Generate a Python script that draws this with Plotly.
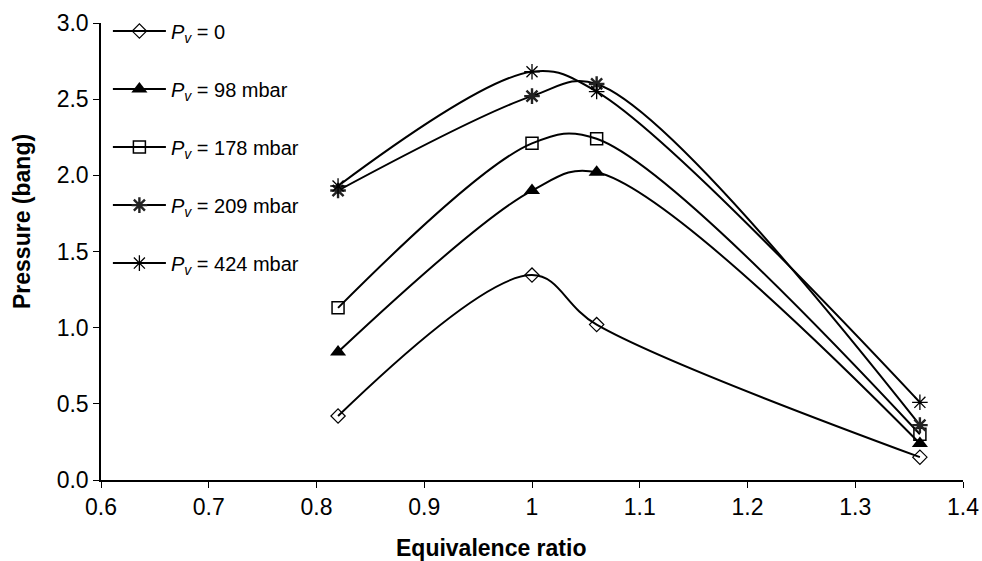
import plotly.graph_objects as go

phi = [0.82, 1.0, 1.06, 1.36]
p_0 = [0.42, 1.345, 1.02, 0.15]
p_98 = [0.84, 1.90, 2.02, 0.24]
p_178 = [1.13, 2.21, 2.24, 0.30]
p_209 = [1.90, 2.52, 2.60, 0.36]
p_424 = [1.93, 2.68, 2.55, 0.51]

x_ticks = [0.6, 0.7, 0.8, 0.9, 1.0, 1.1, 1.2, 1.3, 1.4]
x_ticktext = ["0.6", "0.7", "0.8", "0.9", "1", "1.1", "1.2", "1.3", "1.4"]
y_ticks = [0, 0.5, 1.0, 1.5, 2.0, 2.5, 3.0]
y_ticktext = ["0.0", "0.5", "1.0", "1.5", "2.0", "2.5", "3.0"]

names = ["<i>P</i><sub><i>v</i></sub> = 0",
         "<i>P</i><sub><i>v</i></sub> = 98 mbar",
         "<i>P</i><sub><i>v</i></sub> = 178 mbar",
         "<i>P</i><sub><i>v</i></sub> = 209 mbar",
         "<i>P</i><sub><i>v</i></sub> = 424 mbar"]

series = [p_0, p_98, p_178, p_209, p_424]
markers = [
    dict(symbol="diamond-open", size=11, color="black", line=dict(width=1.2, color="black")),
    dict(symbol="triangle-up", size=14, color="black", line=dict(width=0, color="black")),
    dict(symbol="square-open", size=12, color="black", line=dict(width=1.5, color="#333")),
    dict(symbol="asterisk-open", size=13, color="#222", line=dict(width=2.4, color="#444")),
    dict(symbol="asterisk-open", size=13, color="black", line=dict(width=1.3, color="black")),
]

fig = go.Figure()
for i, (ys, nm, mk) in enumerate(zip(series, names, markers)):
    fig.add_trace(go.Scatter(
        x=phi, y=ys, name=nm, mode="lines+markers",
        line=dict(color="black", width=2, shape="spline", smoothing=1),
        marker=mk, legendgroup=str(i),
    ))

font_main = "Liberation Sans, Arial, sans-serif"
fig.update_layout(
    width=982, height=561,
    paper_bgcolor="white", plot_bgcolor="white",
    margin=dict(l=101, r=19, t=23, b=81, autoexpand=False),
    font=dict(family=font_main, size=22, color="black"),
    showlegend=True,
    legend=dict(x=0.008, y=1.025, xanchor="left", yanchor="top",
                bgcolor="rgba(0,0,0,0)", font=dict(size=20),
                tracegroupgap=29, itemwidth=53),
    xaxis=dict(range=[0.6, 1.4], tickvals=x_ticks, ticktext=x_ticktext,
               showgrid=False, zeroline=False, showline=True, linecolor="black", linewidth=1.5,
               ticks="outside", ticklen=6, tickcolor="black",
               tickfont=dict(size=23)),
    yaxis=dict(range=[0, 3.0], tickvals=y_ticks, ticktext=y_ticktext,
               showgrid=False, zeroline=False, showline=True, linecolor="black", linewidth=1.5,
               ticks="outside", ticklen=6, tickcolor="black",
               tickfont=dict(size=23)),
    annotations=[
        dict(text="<b>Equivalence ratio</b>", xref="paper", yref="paper",
             x=0.4524, y=-0.1488, xanchor="center", yanchor="middle", showarrow=False,
             font=dict(size=23)),
        dict(text="<b>Pressure (bang)</b>", xref="paper", yref="paper",
             x=-0.0916, y=0.5646, xanchor="center", yanchor="middle", showarrow=False,
             textangle=-90, font=dict(size=23)),
    ],
)

fig.write_html("out.html", config={"displayModeBar": False},
               post_script="document.body.style.margin='0';document.body.style.overflow='hidden';")
